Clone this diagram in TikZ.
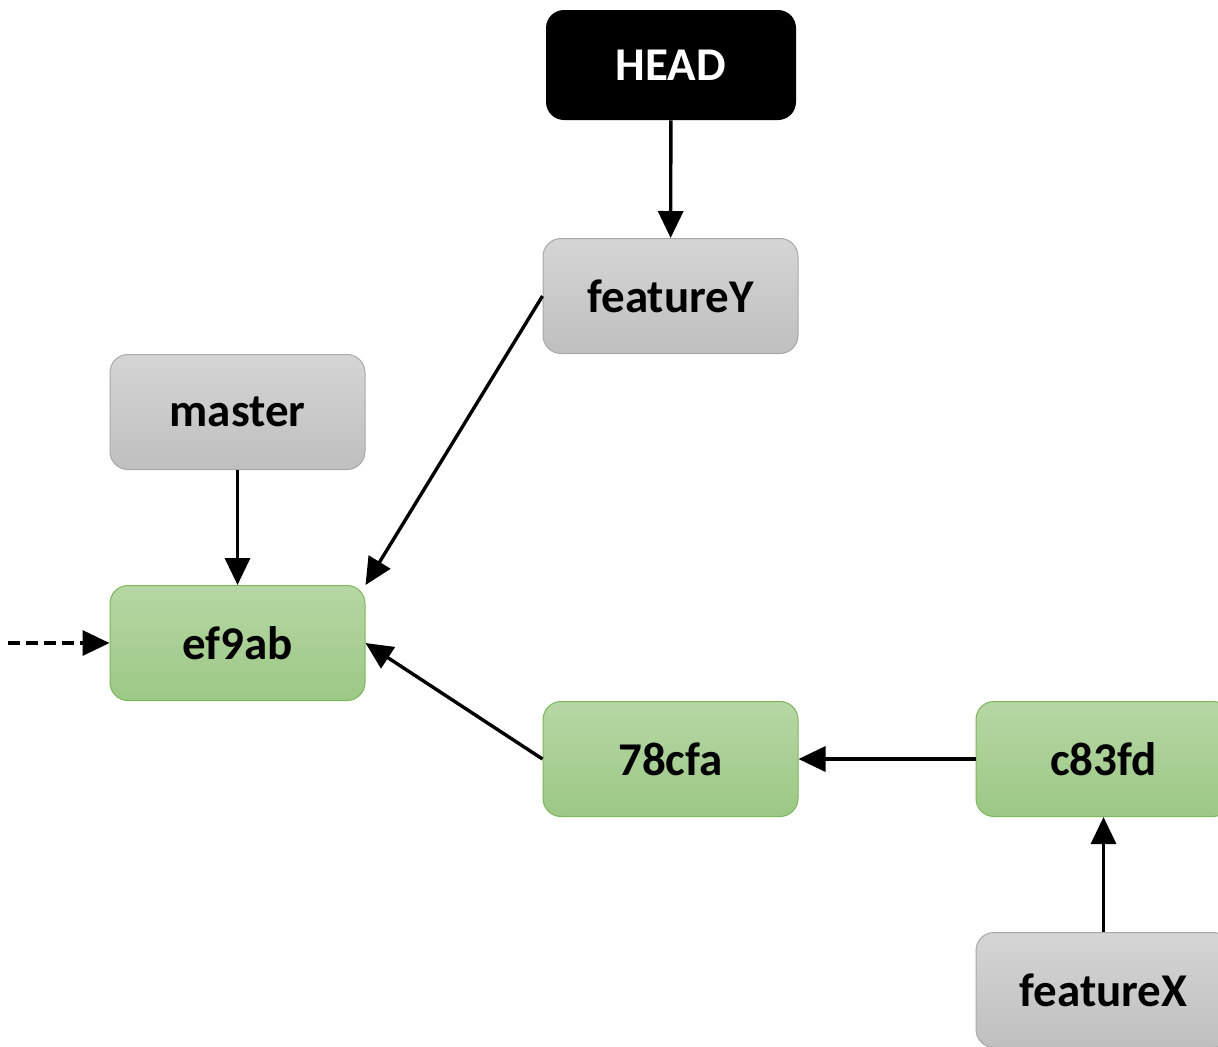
\documentclass[tikz,border=0pt]{standalone}
\usepackage{fontspec}
\setmainfont{Carlito}
\usetikzlibrary{arrows.meta}

\definecolor{greentop}{RGB}{182,215,164}
\definecolor{greenbot}{RGB}{156,200,133}
\definecolor{greenline}{RGB}{125,182,90}
\definecolor{graytop}{RGB}{213,213,213}
\definecolor{graybot}{RGB}{191,191,191}
\definecolor{grayline}{RGB}{168,168,168}

\tikzset{
    box/.style={rounded corners=9pt, minimum width=127.5pt, minimum height=57.5pt,
        font=\fontsize{23.5}{28}\selectfont\bfseries},
    commit/.style={box, draw=greenline, line width=0.5pt, top color=greentop, bottom color=greenbot},
    branch/.style={box, draw=grayline, line width=0.5pt, top color=graytop, bottom color=graybot},
    headbox/.style={box, fill=black, text=white, minimum width=125pt, minimum height=55pt},
    ptr/.style={line width=1.7pt, -{Triangle[length=13.5pt,width=12.5pt]}}
}

\begin{document}
\begin{tikzpicture}[x=0.5pt,y=-0.5pt]
            \useasboundingbox (0,0) rectangle (1218,1046);

            % Boxes
            \node[headbox] (head) at (671, 65) {HEAD};
            \node[branch] (featY) at (670.5, 296) {featureY};
            \node[branch] (master) at (237.5, 412) {master};
            \node[commit] (ef) at (237.5, 643) {ef9ab};
            \node[commit] (cfa) at (670.5, 759) {78cfa};
            \node[commit] (cfd) at (1103.5, 759) {c83fd};
            \node[branch] (featX) at (1103.5, 990) {featureX};
            \coordinate (prev) at (8, 643);

            % Arrows
            \draw[ptr] (head) -- (featY);
            \draw[ptr] (master) -- (ef);
            \draw[ptr] (featY.west) -- (ef.north east);
            \draw[ptr] (cfa.west) -- (ef.east);
            \draw[ptr] (cfd) -- (cfa);
            \draw[ptr] (featX) -- (cfd);
            \draw[ptr, dash pattern=on 6pt off 3pt] (prev) -- (ef);
        \end{tikzpicture}
\end{document}
